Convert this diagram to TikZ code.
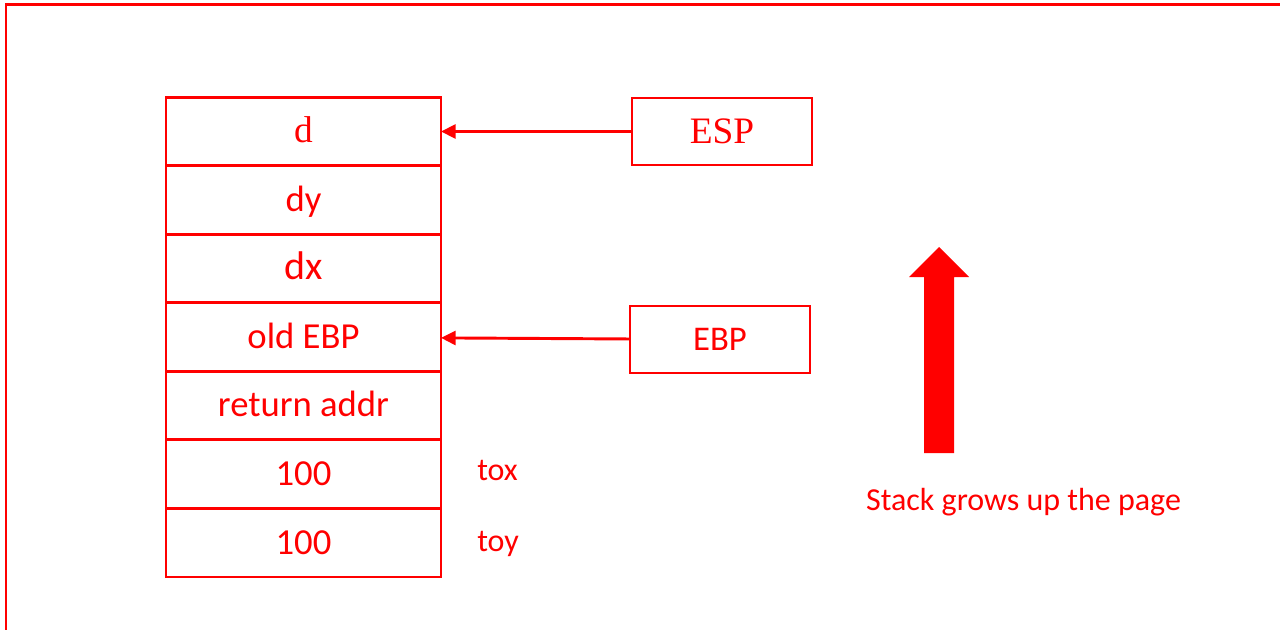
\documentclass[tikz,border=0pt]{standalone}
\usepackage{fontspec}
\setmainfont{Carlito}
\newfontfamily\seriffont{Liberation Serif}
\usepackage{tikz}
\usetikzlibrary{arrows.meta, positioning}
\definecolor{stackred}{RGB}{255,0,0}

\begin{document}
\begin{tikzpicture}[
    x=0.75pt, y=-0.75pt,
    cell/.style={rectangle, draw=stackred, line width=2.2pt, outer sep=0pt, inner sep=0pt, minimum width=206.25pt, minimum height=51.4pt, text=stackred, font=\fontsize{27.5}{30}\selectfont, text height=21pt, text depth=4pt},
    reg/.style={rectangle, draw=stackred, line width=1.8pt, outer sep=0pt, inner sep=0pt, minimum width=135pt, minimum height=50.25pt, text=stackred, font=\fontsize{26}{30}\selectfont},
    note/.style={text=stackred, inner sep=0pt, font=\fontsize{24}{28}\selectfont, text height=19pt, text depth=3.5pt},
    ptr/.style={draw=stackred, line width=2.2pt, -{Triangle[length=11pt, width=10.5pt]}}
]
\useasboundingbox (0,0) rectangle (1280,629);

% Frame
\draw[stackred, line width=1.8pt] (6,660) -- (6,4.5) -- (1300,4.5);

% Stack
\node[cell, font=\seriffont\fontsize{28}{30}\selectfont] (d) at (303.5,131.5) {d};
\node[cell, below=0pt of d] (dy) {dy};
\node[cell, below=0pt of dy, font=\fontsize{30}{32}\selectfont] (dx) {dx};
\node[cell, below=0pt of dx] (oldebp) {old EBP};
\node[cell, below=0pt of oldebp] (retaddr) {return addr};
\node[cell, below=0pt of retaddr] (tox) {100};
\node[cell, below=0pt of tox] (toy) {100};

% Registers
\node[reg, font=\seriffont\fontsize{28}{30}\selectfont] (esp) at (722,131.5) {ESP};
\node[reg] (ebp) at (720,339.5) {EBP};

% Arrows
\draw[ptr] (esp) -- (d);
\draw[ptr] (ebp) -- (oldebp);

% Annotations
\node[note, right=27pt of tox, yshift=3pt] (toxlabel) {tox};
\node[note, right=27pt of toy, yshift=1pt] (toylabel) {toy};

% Growth direction
\fill[stackred] (924,453) -- (924,277) -- (909,277) -- (939,247) -- (969,277) -- (954,277) -- (954,453) -- cycle;
\node[note] (grows) at (1023.5,500) {Stack grows up the page};

\end{tikzpicture}
\end{document}
